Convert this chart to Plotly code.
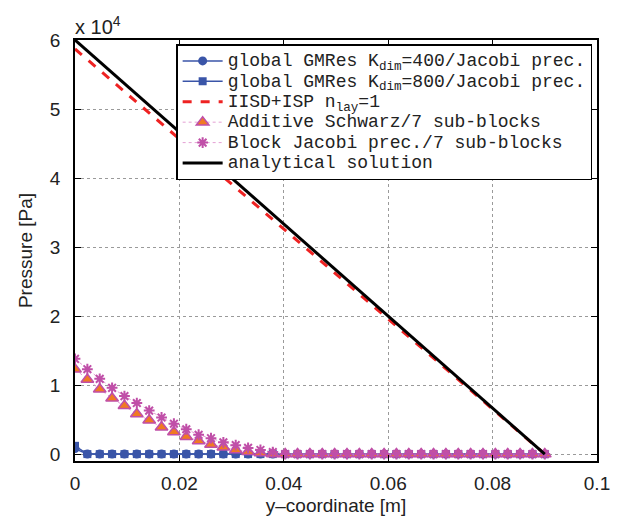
import plotly.graph_objects as go

# ---------------- data ----------------
N = 39
x_max = 0.09
y_coord = [i * x_max / (N - 1) for i in range(N)]

gmres400 = [800] + [0] * (N - 1)
gmres800 = [1200] + [0] * (N - 1)

iisd_x = [0.0, 0.09]
iisd_p = [58700, 0]

schwarz = [12300, 10800, 9400, 8100, 7000, 5800, 4900, 3900, 3200, 2500,
           1900, 1400, 1000, 600, 350, 150] + [0] * (N - 16)
block_jacobi = [13800, 12300, 10900, 9600, 8400, 7400, 6300, 5300, 4400, 3600,
                2800, 2300, 1700, 1300, 900, 600, 300] + [0] * (N - 17)

anal_x = [0.0, 0.09]
anal_p = [60000, 0]

x_ticks = [0, 0.02, 0.04, 0.06, 0.08, 0.1]
x_tick_text = ["0", "0.02", "0.04", "0.06", "0.08", "0.1"]
y_ticks = [0, 10000, 20000, 30000, 40000, 50000, 60000]
y_tick_text = ["0", "1", "2", "3", "4", "5", "6"]

names = [
    "global GMRes K<sub>dim</sub>=400/Jacobi prec.",
    "global GMRes K<sub>dim</sub>=800/Jacobi prec.",
    "IISD+ISP n<sub>lay</sub>=1",
    "Additive Schwarz/7 sub-blocks",
    "Block Jacobi prec./7 sub-blocks",
    "analytical solution",
]


def leg(s):
    return '<span style="font-size:18px">' + s + '</span>'


BLUE = "#3a55a8"
MAG = "#c04fa8"
ORANGE = "#f07a22"

fig = go.Figure()
fig.add_trace(go.Scatter(x=y_coord, y=gmres400, name=leg(names[0]), mode="lines+markers",
                         line=dict(color=BLUE, width=1.5),
                         marker=dict(symbol="circle", size=9, color=BLUE)))
fig.add_trace(go.Scatter(x=y_coord, y=gmres800, name=leg(names[1]), mode="lines+markers",
                         line=dict(color=BLUE, width=1.5),
                         marker=dict(symbol="square", size=8, color=BLUE)))
fig.add_trace(go.Scatter(x=iisd_x, y=iisd_p, name=leg(names[2]), mode="lines",
                         line=dict(color="#ee2222", width=3, dash="dash")))
fig.add_trace(go.Scatter(x=y_coord, y=schwarz, name=leg(names[3]), mode="lines+markers",
                         line=dict(color="#e4a0d4", width=1, dash="dot"),
                         marker=dict(symbol="triangle-up", size=11, color=ORANGE,
                                     line=dict(color=MAG, width=1.5))))
fig.add_trace(go.Scatter(x=y_coord, y=block_jacobi, name=leg(names[4]), mode="lines+markers",
                         line=dict(color="#e4a0d4", width=1, dash="dot"),
                         marker=dict(symbol="asterisk-open", size=9, color=MAG,
                                     line=dict(color=MAG, width=2))))
fig.add_trace(go.Scatter(x=anal_x, y=anal_p, name=leg(names[5]), mode="lines",
                         line=dict(color="black", width=3)))

tickfont = dict(family="Liberation Sans, Arial", size=19, color="#222222")
axis_common = dict(showline=True, linecolor="black", linewidth=1.5, mirror="ticks",
                   ticks="inside", ticklen=6, tickcolor="black",
                   showgrid=True, gridcolor="#9a9a9a", griddash="dot", gridwidth=1,
                   zeroline=False, tickfont=tickfont, ticklabeloverflow="allow")

fig.update_xaxes(range=[0, 0.1], tickvals=x_ticks, ticktext=x_tick_text,
                 ticklabelstandoff=4,
                 title=dict(text="y–coordinate [m]", font=tickfont, standoff=6),
                 **axis_common)
fig.update_yaxes(range=[-1000, 60000], tickvals=y_ticks, ticktext=y_tick_text,
                 ticklabelstandoff=9,
                 title=dict(text="Pressure [Pa]", font=tickfont, standoff=12),
                 **axis_common)

fig.add_annotation(text="x 10<sup>4</sup>", xref="paper", yref="paper", x=0, y=1,
                   xanchor="left", yanchor="bottom", showarrow=False,
                   font=dict(family="Liberation Sans, Arial", size=20, color="#222222"),
                   xshift=-2, yshift=0)

fig.update_layout(
    width=620, height=523,
    margin=dict(l=75, r=10, t=40, b=61),
    plot_bgcolor="white", paper_bgcolor="white",
    legend=dict(x=0.9907, y=0.99, xanchor="right", yanchor="top",
                bgcolor="white", bordercolor="black", borderwidth=1.5,
                font=dict(family="Liberation Mono, Courier New, monospace", size=13.4,
                          color="#222222"),
                tracegroupgap=0, itemwidth=40),
    showlegend=True,
)

fig.write_html("out.html")
